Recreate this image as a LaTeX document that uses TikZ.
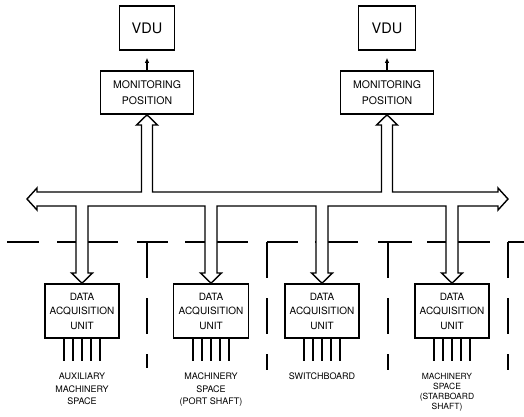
\documentclass[tikz,border=0pt]{standalone}
\usepackage{fontspec}
\setmainfont{TeX Gyre Heros}
\usetikzlibrary{arrows.meta}
\tikzset{
    unitbox/.style={draw, line width=1.6pt, align=center, inner sep=0pt},
    sitelabel/.style={align=center, inner sep=0pt, anchor=north, font=\fontsize{9}{12.5}\selectfont},
    busline/.style={line width=1.4pt, fill=white, line join=miter},
    wallline/.style={line width=1.4pt},
    pinline/.style={line width=1.5pt},
    sigarrow/.style={-{Latex[length=5pt,width=4.5pt]}, line width=1.1pt, shorten >=7pt}
}

\begin{document}
\begin{tikzpicture}[x=1pt,y=-1pt]
    \useasboundingbox (0,0) rectangle (524,416);

    \node[unitbox, minimum width=55pt, minimum height=44pt, font=\fontsize{14.5}{16}\selectfont] (vdu1) at (147,28) {VDU};
    \node[unitbox, minimum width=57pt, minimum height=44pt, font=\fontsize{14.5}{16}\selectfont] (vdu2) at (387,28) {VDU};

    \node[unitbox, minimum width=93pt, minimum height=43pt, font=\fontsize{10.5}{16}\selectfont] (mon1) at (147,92.5) {MONITORING\\POSITION};
    \node[unitbox, minimum width=93pt, minimum height=43pt, font=\fontsize{10.5}{16}\selectfont] (mon2) at (387,92.5) {MONITORING\\POSITION};

    \path [sigarrow](mon1) edge (vdu1);
    \path [sigarrow](mon2) edge (vdu2);

    \node[unitbox, minimum width=74pt, minimum height=54pt, font=\fontsize{10}{14.5}\selectfont] (dau1) at (82,311) {DATA\\ACQUISITION\\UNIT};
    \node[unitbox, minimum width=75pt, minimum height=54pt, font=\fontsize{10}{14.5}\selectfont] (dau2) at (211,311) {DATA\\ACQUISITION\\UNIT};
    \node[unitbox, minimum width=74pt, minimum height=54pt, font=\fontsize{10}{14.5}\selectfont] (dau3) at (322,311) {DATA\\ACQUISITION\\UNIT};
    \node[unitbox, minimum width=74pt, minimum height=54pt, font=\fontsize{10}{14.5}\selectfont] (dau4) at (452,311) {DATA\\ACQUISITION\\UNIT};

    % compartment walls
    \draw[wallline] (7,242) -- (39,242) (57,242) -- (118,242) (137,242) -- (168,242)
        (185,242) -- (248,242) (267,242) -- (298,242) (315,242) -- (358,242)
        (378,242) -- (412,242) (427,242) -- (490,242) (508,242) -- (524,242);
    \draw[wallline, dash pattern=on 36pt off 20pt] (147,242) -- (147,368);
    \draw[wallline, dash pattern=on 36pt off 20pt] (267,242) -- (267,370);
    \draw[wallline, dash pattern=on 36pt off 20pt] (388,242) -- (388,370);
    \draw[wallline, dash pattern=on 36pt off 20pt] (508,242) -- (508,370);

    % data highway
    \draw[busline] (27,199) -- (37,188) -- (37,192)
        -- (141.5,192) -- (141.5,125) -- (136.5,125) -- (mon1.south) -- (157.5,125) -- (152.5,125) -- (152.5,192)
        -- (381.5,192) -- (381.5,125) -- (376.5,125) -- (mon2.south) -- (397.5,125) -- (392.5,125) -- (392.5,192)
        -- (498,192) -- (498,188) -- (508,199) -- (498,210) -- (498,206)
        -- (458,206) -- (458,273) -- (462.5,273) -- (dau4.north) -- (441.5,273) -- (446,273) -- (446,206)
        -- (328,206) -- (328,273) -- (332.5,273) -- (dau3.north) -- (311.5,273) -- (316,273) -- (316,206)
        -- (217,206) -- (217,273) -- (221.5,273) -- (dau2.north) -- (200.5,273) -- (205,273) -- (205,206)
        -- (88,206) -- (88,273) -- (92.5,273) -- (dau1.north) -- (71.5,273) -- (76,273) -- (76,206)
        -- (37,206) -- (37,210) -- cycle;

    \foreach \d in {1,2,3,4}
        \foreach \dx in {-18,-9,0,9,18}
            \draw[pinline] ([xshift=\dx pt]dau\d.south) -- ++(0,22);

    \node[sitelabel] (site1) at (82,373) {AUXILIARY\\MACHINERY\\SPACE};
    \node[sitelabel] (site2) at (211,373) {MACHINERY\\SPACE\\(PORT SHAFT)};
    \node[sitelabel] (site3) at (322,373) {SWITCHBOARD};
    \node[sitelabel, font=\fontsize{8.5}{10}\selectfont] (site4) at (447,373) {MACHINERY\\SPACE\\(STARBOARD\\SHAFT)};
\end{tikzpicture}
\end{document}
